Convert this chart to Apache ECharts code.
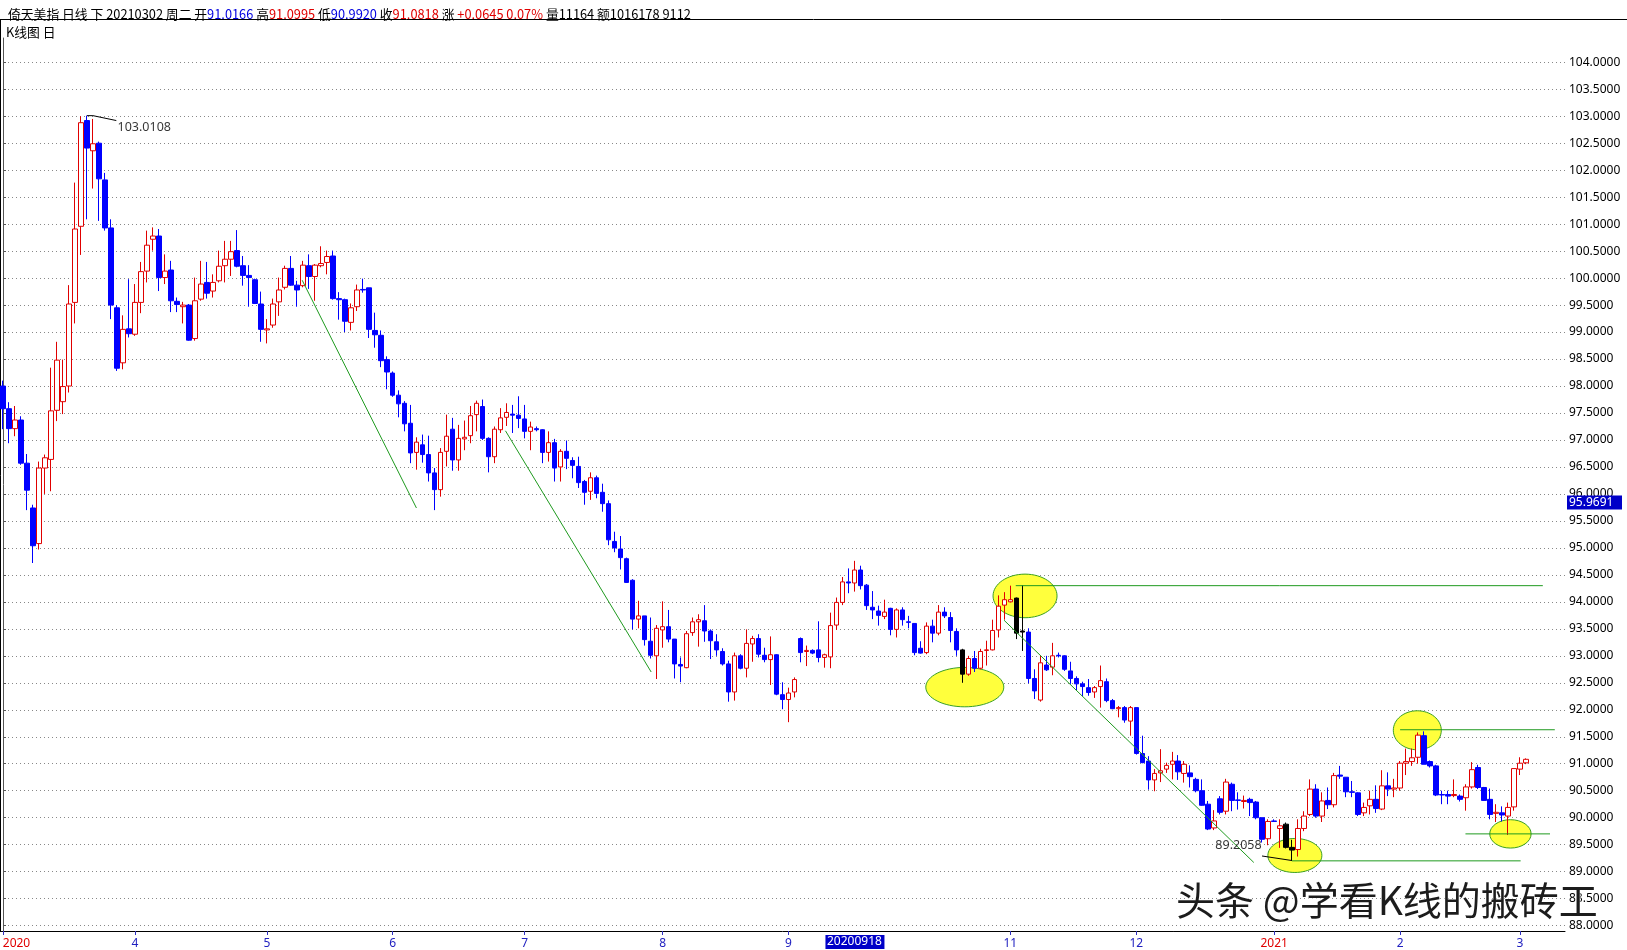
<!DOCTYPE html>
<html><head><meta charset="utf-8">
<script src="https://cdn.jsdelivr.net/npm/echarts@6/dist/echarts.min.js"></script>
<style>html,body{margin:0;padding:0;background:#fff}#c{width:1627px;height:950px}</style>
</head><body><div id="c"></div><script>
// ---------- data ----------
const opens = [
98.00,97.58,97.21,97.37,96.57,95.74,95.08,96.48,96.64,97.55,
97.71,98.00,99.55,100.96,102.92,102.36,102.50,101.82,100.93,99.45,
98.43,99.06,98.96,99.55,100.13,100.72,100.78,100.01,100.15,99.57,
99.47,99.50,98.88,99.61,99.92,99.76,99.95,100.23,100.35,100.51,
100.23,100.05,99.97,99.52,99.04,99.13,99.56,99.83,100.18,99.87,
99.86,100.23,100.03,100.23,100.29,100.41,99.62,99.60,99.18,99.47,
99.79,99.82,99.03,98.94,98.49,98.24,97.83,97.68,97.31,96.77,
96.91,96.73,96.39,96.08,96.79,97.20,96.63,97.02,97.08,97.47,
97.62,97.03,96.69,97.19,97.42,97.48,97.46,97.39,97.16,97.21,
97.19,96.77,96.95,96.50,96.79,96.62,96.51,96.23,96.05,96.30,
96.03,95.82,95.12,94.98,94.80,94.40,93.68,93.74,93.27,93.00,
93.48,93.54,93.31,92.84,92.78,93.43,93.63,93.65,93.46,93.26,
93.08,92.85,92.33,93.00,92.77,93.22,93.32,93.01,92.93,93.02,
92.28,92.19,92.33,93.32,93.08,93.10,93.11,92.97,92.98,93.57,
93.99,94.37,94.35,94.59,94.31,93.90,93.83,93.73,93.88,93.49,
93.85,93.63,93.60,93.14,93.06,93.55,93.42,93.81,93.71,93.45,
93.11,92.66,92.95,92.77,93.10,93.11,93.48,93.94,94.00,94.07,
93.46,93.44,92.58,92.18,92.83,92.79,93.01,93.00,92.72,92.58,
92.48,92.41,92.33,92.43,92.52,92.17,92.02,92.04,91.79,92.04,
91.19,91.05,90.70,90.83,90.90,90.99,91.05,90.82,90.83,90.71,
90.50,90.25,89.81,90.35,90.12,90.62,90.33,90.30,90.34,90.29,
90.00,89.61,89.94,89.80,89.88,89.45,89.41,89.80,90.06,90.53,
90.03,90.32,90.24,90.79,90.75,90.48,90.46,90.09,90.22,90.34,
90.16,90.59,90.53,90.55,91.01,91.04,91.12,91.52,91.04,90.96,
90.43,90.43,90.41,90.40,90.37,90.57,90.93,90.56,90.34,90.08,
90.09,90.03,90.20,90.90,91.0166];
const closes = [
97.58,97.21,97.37,96.57,96.07,95.04,96.48,96.67,97.54,98.48,
97.99,99.52,100.91,102.88,102.41,102.49,101.84,100.93,99.50,98.33,
99.05,98.97,99.55,100.12,100.61,100.78,100.01,100.13,99.58,99.51,
99.50,98.85,99.58,99.89,99.72,99.92,100.22,100.35,100.49,100.22,
100.05,100.01,99.53,99.05,99.06,99.52,99.78,100.18,99.87,99.78,
100.24,100.03,100.24,100.27,100.40,99.62,99.60,99.20,99.45,99.78,
99.78,99.05,98.95,98.47,98.26,97.83,97.67,97.30,96.76,96.96,
96.73,96.39,96.08,96.77,97.07,96.63,97.03,97.05,97.45,97.68,
97.03,96.69,97.20,97.41,97.51,97.46,97.40,97.16,97.24,97.19,
96.77,96.95,96.48,96.79,96.66,96.53,96.21,96.03,96.30,96.01,
95.82,95.15,95.00,94.82,94.36,93.68,93.74,93.30,93.01,93.51,
93.54,93.31,92.85,92.81,93.41,93.63,93.67,93.46,93.28,93.11,
92.85,92.33,93.00,92.77,93.23,93.32,93.03,92.93,93.02,92.29,
92.19,92.31,92.56,93.06,93.10,93.05,92.97,93.02,93.56,93.99,
94.37,94.35,94.59,94.30,93.93,93.85,93.75,93.81,93.49,93.85,
93.67,93.62,93.06,93.05,93.55,93.42,93.81,93.74,93.47,93.11,
92.66,92.95,92.77,93.08,93.11,93.47,93.92,94.04,94.04,93.42,
93.44,92.58,92.35,92.87,92.74,93.00,93.00,92.75,92.58,92.48,
92.43,92.32,92.41,92.54,92.17,92.02,92.04,91.81,92.04,91.19,
91.02,90.70,90.82,90.87,90.97,91.05,90.85,90.99,90.76,90.50,
90.23,89.79,89.94,90.10,90.66,90.32,90.32,90.32,90.28,90.00,
89.60,89.93,89.93,89.85,89.45,89.40,89.80,90.03,90.53,90.03,
90.31,90.24,90.78,90.77,90.48,90.47,90.06,90.19,90.34,90.17,
90.59,90.53,90.55,91.01,91.04,91.11,91.53,90.99,90.96,90.42,
90.42,90.40,90.43,90.34,90.57,90.89,90.56,90.32,90.06,90.10,
90.05,90.19,90.91,91.01,91.0818];
const highs = [
98.10,97.70,97.63,97.44,96.74,95.80,96.60,96.73,98.34,98.82,
98.49,99.87,101.77,103.00,103.0108,102.95,102.53,101.95,101.09,99.50,
99.31,99.98,99.89,100.30,100.88,100.94,100.91,100.44,100.32,99.64,
99.56,99.52,100.01,100.32,100.30,100.07,100.51,100.69,100.69,100.89,
100.41,100.24,99.99,99.75,99.24,99.62,100.01,100.23,100.41,99.95,
100.32,100.44,100.26,100.59,100.51,100.51,99.74,99.62,99.53,99.88,
99.99,99.82,99.36,99.03,98.55,98.27,97.92,97.72,97.65,97.05,
97.10,97.08,96.48,96.85,97.47,97.41,97.28,97.36,97.63,97.73,
97.75,97.05,97.25,97.59,97.68,97.65,97.81,97.65,97.34,97.25,
97.20,97.16,97.02,96.83,96.99,96.68,96.69,96.26,96.40,96.34,
96.19,95.88,95.30,95.22,94.82,94.42,94.02,93.74,93.71,93.57,
94.01,93.85,93.31,92.97,93.46,93.71,93.77,93.94,93.49,93.40,
93.14,92.91,93.06,93.03,93.49,93.37,93.40,93.15,93.36,93.03,
92.51,92.41,92.60,93.34,93.19,93.12,93.64,93.04,93.80,94.08,
94.46,94.62,94.76,94.67,94.33,94.20,93.93,94.04,93.89,93.88,
93.90,93.74,93.60,93.27,93.62,93.67,93.94,93.90,93.81,93.51,
93.13,93.00,93.09,93.13,93.28,93.67,94.12,94.18,94.30,94.08,
94.31,93.51,92.75,93.00,93.00,93.24,93.06,93.01,92.89,92.62,
92.52,92.57,92.44,92.82,92.58,92.20,92.07,92.07,92.07,92.04,
91.52,91.14,90.90,91.27,91.02,91.22,91.16,91.05,90.97,90.74,
90.71,90.31,90.14,90.40,90.72,90.65,90.47,90.41,90.37,90.31,
90.00,89.97,89.97,89.97,89.91,89.59,89.97,90.12,90.71,90.62,
90.47,90.56,90.83,90.96,90.75,90.68,90.47,90.28,90.50,90.60,
90.88,90.84,90.72,91.05,91.28,91.28,91.58,91.60,91.06,90.98,
90.50,90.50,90.71,90.43,90.62,91.03,90.98,90.57,90.54,90.25,
90.21,90.28,90.91,91.12,91.0995];
const lows = [
97.20,96.94,97.07,96.54,95.70,94.72,94.97,96.00,96.05,97.35,
97.48,97.88,99.16,100.43,101.09,101.66,101.06,100.88,99.24,98.28,
98.31,98.90,98.93,99.35,99.92,100.51,99.76,99.89,99.37,99.37,
99.16,98.84,98.84,99.58,99.62,99.64,99.92,99.92,100.04,100.20,
99.86,99.47,99.52,98.82,98.79,99.08,99.30,99.79,99.86,99.47,
99.83,99.80,99.58,100.20,100.07,99.60,99.23,99.00,99.03,99.39,
99.73,98.89,98.71,98.35,97.94,97.80,97.42,97.16,96.57,96.45,
96.58,96.23,95.70,95.95,96.51,96.43,96.43,96.81,96.94,97.16,
97.00,96.40,96.57,97.13,97.26,97.13,97.22,97.03,96.81,97.16,
96.57,96.60,96.23,96.23,96.46,96.29,96.11,95.80,95.89,95.92,
95.67,95.05,94.92,94.60,94.35,93.49,93.51,93.19,92.95,92.57,
93.15,93.25,92.58,92.51,92.77,93.37,93.17,93.26,92.94,93.00,
92.82,92.15,92.17,92.75,92.60,92.89,92.97,92.88,92.46,92.27,
92.01,91.77,92.23,92.88,92.81,93.03,92.88,92.78,92.77,93.48,
93.94,94.16,94.19,94.23,93.85,93.68,93.56,93.68,93.38,93.34,
93.56,93.51,93.01,93.04,93.03,93.25,93.38,93.70,93.25,93.00,
92.50,92.63,92.70,92.75,92.82,93.10,93.34,93.67,93.99,93.31,
93.09,92.49,92.20,92.15,92.72,92.64,92.97,92.72,92.48,92.35,
92.25,92.26,92.22,92.04,92.14,92.01,91.86,91.76,91.52,91.17,
91.01,90.52,90.49,90.66,90.83,90.71,90.70,90.65,90.56,90.47,
90.22,89.77,89.77,90.06,90.06,90.12,90.15,90.17,90.03,89.97,
89.54,89.49,89.92,89.44,89.43,89.2058,89.28,89.75,90.03,90.00,
89.92,90.16,90.19,90.72,90.38,90.38,90.03,90.03,90.06,90.09,
90.14,90.40,90.38,90.50,90.79,90.96,91.00,90.99,90.93,90.40,
90.25,90.25,90.38,90.30,90.13,90.54,90.53,90.31,89.97,89.92,
89.93,89.68,90.13,90.79,90.9920];
const markedBars = [160, 169, 170, 214, 215];          // candles drawn in black
const emptySlots = 6;                                   // blank days at the right
const dateTicks = [[0,'2020'],[22,'4'],[44,'5'],[65,'6'],[87,'7'],[110,'8'],[131,'9'],[168,'11'],[189,'12'],[212,'2021'],[233,'2'],[253,'3']];
const yearTicks = ['2020','2021'];
const priceTicks = [88,88.5,89,89.5,90,90.5,91,91.5,92,92.5,93,93.5,94,94.5,95,95.5,96,96.5,97,97.5,98,98.5,99,99.5,100,100.5,101,101.5,102,102.5,103,103.5,104];
const cursorDate = [142, '20200918'];
const cursorPrice = 95.9691;
const trendLines = [
  [[49.9, 99.96], [68.95, 95.74]],
  [[83.8, 97.17], [108.1, 92.70]],
  [[166.95, 93.66], [208.6, 89.17]]
];
const levelLines = [
  [[168.9, 94.30], [256.8, 94.30]],
  [[233.0, 91.63], [258.8, 91.63]],
  [[243.9, 89.70], [258.0, 89.70]],
  [[214.95, 89.20], [253.1, 89.20]]
];
const ellipseCenters = [[160.4, 92.42], [170.45, 94.11], [215.45, 89.30], [235.87, 91.62], [251.4, 89.70]];
const highNote = [[14, 103.0108], [15, 103.0108], [18.9, 102.92]];
const highNoteText = [19.1, 102.80, '103.0108'];
const lowNote = [[209.97, 89.29], [214.97, 89.2058]];
const lowNoteText = [209.9, 89.49, '89.2058'];
const headerParts = [
  ['k','倚天美指 日线 下 20210302 周二 开'],['b','91.0166'],['k',' 高'],['r','91.0995'],['k',' 低'],['b','90.9920'],
  ['k',' 收'],['r','91.0818'],['k',' 涨 '],['r','+0.0645 0.07%'],['k',' 量11164 额1016178 9112']
];
const watermark = '头条 @学看K线的搬砖工';

// ---------- style ----------
const ellipseRadii = [[39, 19.7], [32, 21.8], [27, 17], [24, 19.5], [20.7, 14.2]];
const RED = '#e00000', BLUE = '#0000ff', GREEN = '#1f9a1f';
const FONT = 'Noto Sans';
const CJK = 'Noto Sans CJK SC';

const n = opens.length;
const categories = Array.from({length: n + emptySlots}, (_, i) => String(i));
const tickMap = new Map(dateTicks.map(d => [d[0], d[1]]));
const candleData = opens.map((o, i) => {
  const v = [o, closes[i], lows[i], highs[i]];
  if (markedBars.includes(i)) return {value: v, itemStyle: {color: '#000', color0: '#000', borderColor: '#000', borderColor0: '#000'}};
  return v;
});

const lineSeries = (pts, color) => ({
  type: 'line', xAxisIndex: 1, yAxisIndex: 0, data: pts, symbol: 'none', silent: true, z: 4,
  lineStyle: {color: color, width: 1}, animation: false
});

const hdr = (c) => ({color: c, fontSize: 12.8, fontWeight: 'normal', fontFamily: CJK});

const chart = echarts.init(document.getElementById('c'), null, {renderer: 'canvas'});
const option = {
  animation: false,
  backgroundColor: '#fff',
  title: [{
    left: 3, top: 3,
    text: headerParts.map(p => '{' + p[0] + '|' + p[1] + '}').join(''),
    textStyle: {fontWeight: 'normal', fontSize: 12.8, rich: {k: hdr('#000'), b: hdr('#0000e0'), r: hdr(RED)}}
  }, {
    left: 1, top: 21, text: 'K线图 日',
    textStyle: {color: '#000', fontSize: 12.8, fontWeight: 'normal', fontFamily: CJK}
  }],
  grid: {left: 0, right: 62, top: 38, bottom: 19, outerBoundsMode: 'none', containLabel: false, show: false},
  xAxis: [{
    type: 'category', data: categories, boundaryGap: true,
    axisLine: {lineStyle: {color: '#000'}},
    axisTick: {show: true, alignWithLabel: true, length: 4, lineStyle: {color: '#3030c0'},
      interval: (i) => tickMap.has(i)},
    axisLabel: {
      interval: (i) => tickMap.has(i), margin: 7, hideOverlap: false,
      formatter: (v, i) => {
        const idx = Number(v);
        const t = tickMap.get(idx);
        if (t === undefined) return '';
        if (idx === 0) return '{r0|' + t + '}';
        return yearTicks.includes(t) ? '{r|' + t + '}' : '{b|' + t + '}';
      },
      rich: {
        r0: {color: RED, fontSize: 12, fontFamily: FONT, padding: [0, 0, 0, 27]},
        r: {color: RED, fontSize: 12, fontFamily: FONT},
        b: {color: '#2020c0', fontSize: 12, fontFamily: FONT}
      }
    },
    splitLine: {show: false}
  }, {
    type: 'value', min: -0.5, max: n + emptySlots - 0.5, show: false
  }],
  yAxis: [{
    type: 'value', position: 'right', min: 87.9, max: 104.45, scale: true,
    axisLine: {show: true, lineStyle: {color: '#555'}},
    axisTick: {show: true, length: 3, customValues: priceTicks, lineStyle: {color: '#555'}},
    axisLabel: {customValues: priceTicks, margin: 4, color: '#000', fontSize: 12, fontFamily: FONT,
      formatter: v => Number(v).toFixed(4)},
    splitLine: {show: true, lineStyle: {color: '#888', type: [1, 3], width: 1}}
  }],
  series: [
    {
      type: 'custom', xAxisIndex: 1, yAxisIndex: 0, z: 1, silent: true,
      data: ellipseCenters,
      renderItem: (params, api) => {
        const c = api.coord([api.value(0), api.value(1)]);
        const r = ellipseRadii[params.dataIndex];
        return {type: 'ellipse', shape: {cx: c[0], cy: c[1], rx: r[0], ry: r[1]},
          style: {fill: '#ffff3c', stroke: '#3aa022', lineWidth: 1}};
      }
    },
    {
      type: 'candlestick', xAxisIndex: 0, yAxisIndex: 0, z: 2, barWidth: 5,
      data: candleData,
      itemStyle: {color: '#ffffff', color0: BLUE, borderColor: RED, borderColor0: BLUE, borderWidth: 1}
    },
    ...trendLines.map(l => lineSeries(l, GREEN)),
    ...levelLines.map(l => lineSeries(l, GREEN)),
    lineSeries(highNote, '#000'),
    lineSeries(lowNote, '#000'),
    {
      type: 'scatter', xAxisIndex: 1, yAxisIndex: 0, symbolSize: 0, z: 5, silent: true,
      data: [[highNoteText[0], highNoteText[1]]],
      label: {show: true, position: 'right', distance: 0, formatter: highNoteText[2], color: '#000', fontSize: 12.5, fontFamily: FONT}
    },
    {
      type: 'scatter', xAxisIndex: 1, yAxisIndex: 0, symbolSize: 0, z: 5, silent: true,
      data: [[lowNoteText[0], lowNoteText[1]]],
      label: {show: true, position: 'left', distance: 0, formatter: lowNoteText[2], color: '#000', fontSize: 12.5, fontFamily: FONT}
    }
  ]
};
chart.setOption(option);

// overlays tied to the axes
const px = chart.convertToPixel({xAxisIndex: 0}, cursorDate[0]);
const py = chart.convertToPixel({yAxisIndex: 0}, cursorPrice);
chart.setOption({graphic: [
  {type: 'line', shape: {x1: 0, y1: 19.5, x2: 1627, y2: 19.5}, style: {stroke: '#000', lineWidth: 1}},
  {type: 'line', shape: {x1: 0.5, y1: 19.5, x2: 0.5, y2: 931}, style: {stroke: '#000', lineWidth: 1}},
  {type: 'rect', shape: {x: px - 29, y: 935, width: 59, height: 14}, style: {fill: '#0000c8'}, z: 10},
  {type: 'text', x: px, y: 942, style: {text: cursorDate[1], fill: '#fff', fontSize: 12, fontFamily: FONT, align: 'center', verticalAlign: 'middle'}, z: 11},
  {type: 'rect', shape: {x: 1567, y: py, width: 55, height: 14}, style: {fill: '#0000c8'}, z: 10},
  {type: 'text', x: 1569, y: py + 7, style: {text: cursorPrice.toFixed(4), fill: '#fff', fontSize: 12, fontFamily: FONT, align: 'left', verticalAlign: 'middle'}, z: 11},
  {type: 'text', x: 1176, y: 900, style: {text: watermark, fill: '#1c1c1c', fontSize: 39, fontFamily: CJK, align: 'left', verticalAlign: 'middle',
    stroke: '#fff', lineWidth: 1}, z: 20}
]});
</script></body></html>
